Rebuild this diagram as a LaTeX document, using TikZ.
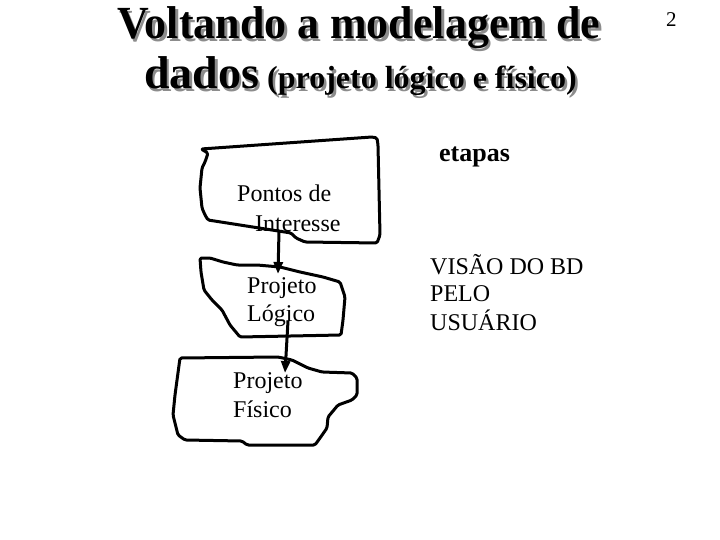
\documentclass[tikz,border=0pt]{standalone}
\usepackage{fontspec}
\setmainfont{Liberation Serif}
\usetikzlibrary{arrows.meta}
\tikzset{
  blob/.style={draw=black, line width=3pt, line join=round, rounded corners=1.5pt},
  arr/.style={draw=black, line width=3pt, -{Triangle[length=12pt,width=9pt]}},
  lbl/.style={anchor=base west, inner sep=0pt, font=\fontsize{24}{24}\selectfont},
  ttl/.style={anchor=base west, inner sep=0pt},
}
\begin{document}
\begin{tikzpicture}[x=1pt,y=-1pt]
\useasboundingbox (0,0) rectangle (720,540);
% title with shadow
\foreach \dx/\dy/\col in {2.5/2.5/black!45, 0/0/black}{
  \node[ttl, text=\col, font=\bfseries\fontsize{46}{46}\selectfont] at (117+\dx,39+\dy) {\scalebox{0.955}[1]{Voltando a modelagem de}};
  \node[ttl, text=\col, font=\bfseries\fontsize{46}{46}\selectfont] at (144+\dx,89+\dy) {dados};
  \node[ttl, text=\col, font=\bfseries\fontsize{32}{32}\selectfont] at (267+\dx,89+\dy) {(projeto lógico e físico)};
}
\node[ttl, font=\fontsize{21}{21}\selectfont] (pg) at (666,27) {2};
% box 1
\draw[blob] (201,149) -- (208,153) -- (205,162) -- (202,168) -- (200,188) -- (202,208) -- (205,215) -- (208,220)
  -- (291,233) -- (296,238) -- (305,242) -- (377,243) -- (380,235) -- (378,145) -- (377,138) -- (372,137) -- cycle;
% box 2
\draw[blob] (200,258) -- (210,258) -- (223,262) -- (237,265) -- (257,265) -- (280,267) -- (300,272) -- (323,277)
  -- (340,282) -- (345,297) -- (343,320) -- (341,335) -- (240,337) -- (230,325) -- (222,310) -- (212,300)
  -- (204,290) -- (201,272) -- cycle;
% box 3
\draw[blob] (180,358) -- (278,357) -- (292,360) -- (308,368) -- (322,372) -- (352,373) -- (357,378) -- (357,395)
  -- (352,400) -- (338,405) -- (328,417) -- (327,428) -- (320,438) -- (315,445) -- (247,445) -- (242,441)
  -- (185,440) -- (178,435) -- (173,415) -- (175,395) -- cycle;
% labels
\node[lbl] (p1) at (237,202) {Pontos de};
\node[lbl] (p2) at (255,232) {Interesse};
\node[lbl] (l1) at (247,293) {Projeto};
\node[lbl] (l2) at (247,321) {Lógico};
\node[lbl] (f1) at (233,388) {Projeto};
\node[lbl] (f2) at (233,417) {Físico};
\node[lbl, font=\bfseries\fontsize{26}{26}\selectfont] (et) at (439,162) {etapas};
\node[lbl] (v1) at (430,274) {VISÃO DO BD};
\node[lbl] (v2) at (430,301) {PELO};
\node[lbl] (v3) at (430,330) {USUÁRIO};
% arrows
\coordinate (a1s) at (279,231);
\coordinate (a1e) at (278,274);
\coordinate (a2s) at (288,321);
\coordinate (a2e) at (285,373);
\draw[arr] (a1s) -- (a1e);
\draw[arr] (a2s) -- (a2e);
\end{tikzpicture}
\end{document}
